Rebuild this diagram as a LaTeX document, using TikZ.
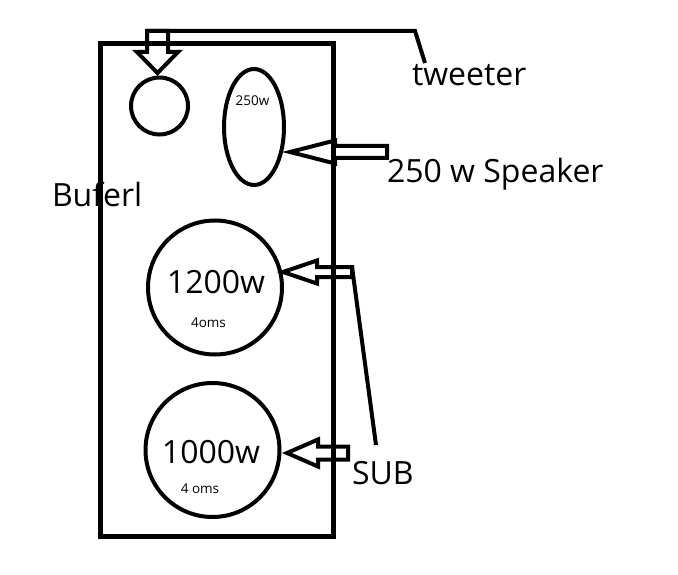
\documentclass[tikz,border=0pt]{standalone}
\usepackage{fontspec}
\setmainfont{Open Sans}
\usetikzlibrary{shapes.geometric}

\begin{document}
\begin{tikzpicture}[
  x=1pt,y=-1pt,
  every node/.style={inner sep=0pt,outer sep=0pt},
  cone/.style={draw,circle,line width=4pt},
  big/.style={font=\fontsize{32}{36}\selectfont},
  small/.style={font=\fontsize{13.5}{16}\selectfont},
  ptr/.style={draw,line width=4pt,line join=miter},
  lead/.style={line width=4pt,line join=miter},
  pics/pointer/.style args={#1,#2,#3,#4}{code={
    \draw[ptr] (0,0) -- (#1,-#2) -- (#1,-#3) -- (#1+#4,-#3)
      -- (#1+#4,#3) -- (#1,#3) -- (#1,#2) -- cycle;
    \coordinate (-a) at (#1+#4,-#3);
  }}
]
  \useasboundingbox (0,0) rectangle (678,575);

  % cabinet
  \node[draw,line width=5pt,minimum width=233,minimum height=492.5] (cab)
    at (217,289.75) {};

  % drivers
  \node[cone,minimum size=57] (twt) at (159.5,106) {};
  \node[draw,ellipse,line width=4pt,minimum width=60,minimum height=116] (mid)
    at (254,127) {};
  \node[cone,minimum size=134] (wfa) at (215,287.5) {};
  \node[cone,minimum size=134] (wfb) at (212.5,450) {};

  % ratings
  \node[small,anchor=base] (midw) at (252.5,106) {250w};
  \node[big,anchor=base] (wfaw) at (216,293) {1200w};
  \node[small,anchor=base] (wfao) at (208.5,327) {4oms};
  \node[big,anchor=base] (wfbw) at (211,463) {1000w};
  \node[small,anchor=base] (wfbo) at (200,493) {4 oms};

  % labels
  \node[big,anchor=base west] (lbox) at (52,207) {Buferl};
  \node[big,anchor=base west] (ltwt) at (412,86) {tweeter};
  \node[big,anchor=base west] (lmid) at (387,183) {250 w Speaker};
  \node[big,anchor=base west] (lsub) at (352,484) {SUB};

  % pointers
  \pic[rotate=90] (ptw) at (157.5,73) {pointer={21,20.5,10.5,21}};
  \pic (pmid) at (290,152) {pointer={45,11.5,6,52}};
  \pic (pwfa) at (283,272) {pointer={34,11.5,5,35}};
  \pic (pwfb) at (287,453) {pointer={31,13.5,6.5,30}};

  % leads to labels
  \coordinate (twbend) at (415,31);
  \coordinate (twend) at (425,63);
  \coordinate (subend) at (376,445);
  \draw[lead] (ptw-a) -- (twbend) -- (twend);
  \draw[lead] (pwfa-a) -- (subend);
\end{tikzpicture}
\end{document}
